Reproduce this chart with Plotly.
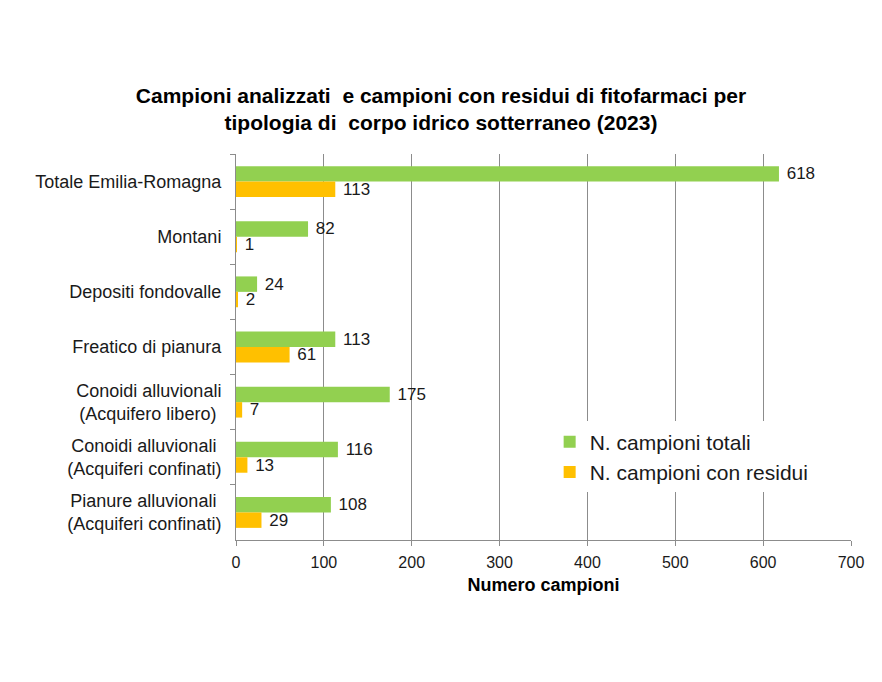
import plotly.graph_objects as go

categories = [
    "Totale Emilia-Romagna",
    "Montani",
    "Depositi fondovalle",
    "Freatico di pianura",
    "Conoidi alluvionali<br>(Acquifero libero)\u00a0",
    "Conoidi alluvionali\u00a0<br>(Acquiferi confinati)",
    "Pianure alluvionali\u00a0<br>(Acquiferi confinati)",
]
totali = [618, 82, 24, 113, 175, 116, 108]
con_residui = [113, 1, 2, 61, 7, 13, 29]
x_ticks = [0, 100, 200, 300, 400, 500, 600, 700]

series_names = ["N. campioni totali", "N. campioni con residui"]
colors = ["#92D050", "#FFC000"]
text_color = "#1a1a1a"
grid_color = "#8c8c8c"
font_family = "Liberation Sans, Arial, sans-serif"

W, H = 874, 674  # page body has an 8px margin

fig = go.Figure()
for i, (name, vals) in enumerate(zip(series_names, [totali, con_residui])):
    fig.add_trace(go.Bar(
        y=categories, x=vals, orientation="h", name=name,
        marker=dict(color=colors[i], line=dict(width=0)),
        text=vals, texttemplate="\u00a0%{x}", textposition="outside",
        textfont=dict(size=17, color=text_color, family=font_family),
        constraintext="none",
        cliponaxis=False, legendgroup=f"g{i}",
    ))

fig.update_layout(
    width=W, height=H,
    margin=dict(l=228, r=31, t=146, b=142),
    paper_bgcolor="white", plot_bgcolor="white",
    font=dict(family=font_family, color=text_color),
    barmode="group", bargap=0.44, bargroupgap=0,
    title=dict(
        text="<b>Campioni analizzati  e campioni con residui di fitofarmaci per<br>tipologia di  corpo idrico sotterraneo (2023)</b>",
        x=(441 - 8) / W, xref="container", xanchor="center",
        y=1 - 95 / H, yref="container", yanchor="top",
        font=dict(size=21, color="#000000", family=font_family),
    ),
    showlegend=True,
    legend=dict(
        x=0.51, y=0.307, xanchor="left", yanchor="top",
        bgcolor="white", borderwidth=0,
        font=dict(size=21, color=text_color, family=font_family),
        traceorder="grouped", tracegroupgap=0,
    ),
    xaxis=dict(
        range=[0, 700], tickvals=x_ticks, ticktext=[str(v) for v in x_ticks],
        showgrid=True, gridcolor=grid_color, gridwidth=1,
        showline=True, linecolor=grid_color, linewidth=1,
        ticks="outside", ticklen=5, tickcolor=grid_color,
        tickfont=dict(size=16, color=text_color),
        ticklabelstandoff=3,
        zeroline=False,
        title=dict(text="<b>Numero campioni</b>", font=dict(size=18, color="#000000"), standoff=8),
    ),
    yaxis=dict(
        type="category", autorange="reversed",
        showgrid=False, showline=True, linecolor=grid_color, linewidth=1,
        ticks="outside", ticklen=5, tickcolor=grid_color, tickson="boundaries",
        tickfont=dict(size=18, color=text_color),
        ticklabelstandoff=10,
    ),
)

fig.write_html("out.html")
